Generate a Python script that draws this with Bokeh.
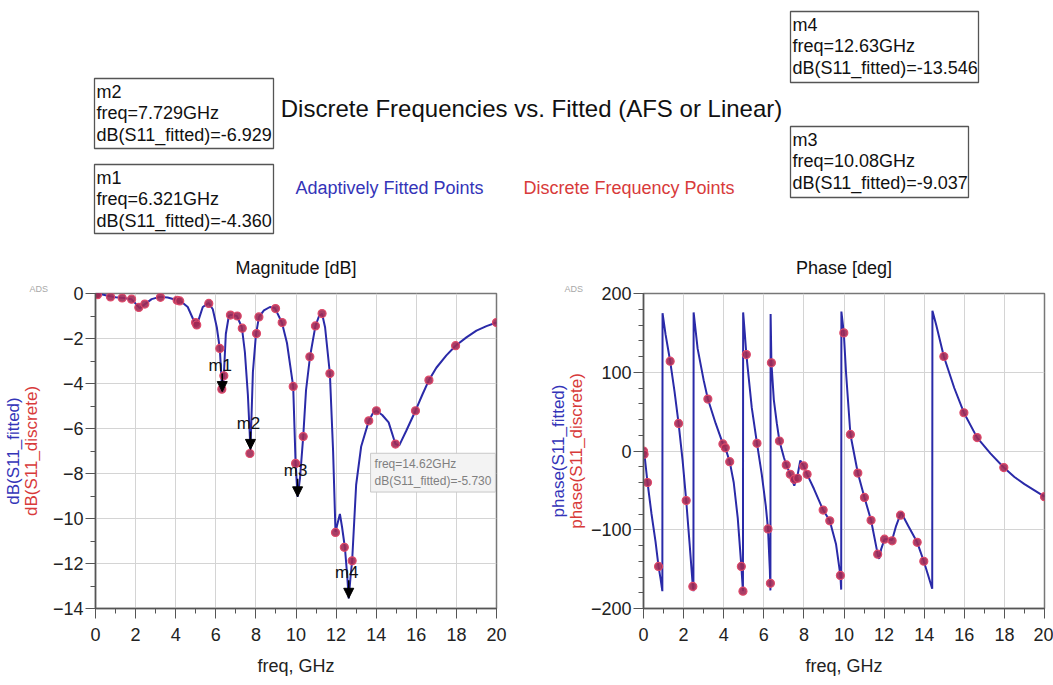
from bokeh.plotting import figure
from bokeh.models import (Range1d, SingleIntervalTicker, FixedTicker, Label, Arrow, NormalHead,
                          ColumnDataSource, LinearAxis, Title)
from bokeh.layouts import column, row
from bokeh.core.properties import value
from bokeh.embed import file_html
from bokeh.resources import INLINE

FONT = "Liberation Sans"
BLUE = "#2a2aa8"
LBLUE = "#3434b8"
RED = "#d83a3a"
PT_FILL = "#a02a55"
PT_LINE = "#e04a6a"

# ---------------- data ----------------
mag_fit_freq = [0.0, 0.3, 0.6, 1.0, 1.4, 1.8, 2.0, 2.2, 2.35, 2.5, 2.8, 3.2, 3.6, 4.0, 4.3, 4.6, 4.85,
                5.0, 5.15, 5.35, 5.65, 5.85, 6.05, 6.2, 6.321, 6.4, 6.5, 6.65, 6.75, 7.05, 7.3, 7.45,
                7.6, 7.729, 7.85, 8.0, 8.15, 8.4, 8.7, 8.95, 9.3, 9.55, 9.86, 9.98, 10.08, 10.2, 10.36,
                10.5, 10.7, 10.97, 11.15, 11.3, 11.45, 11.69, 11.85, 11.97, 12.05, 12.19, 12.3, 12.44,
                12.55, 12.63, 12.72, 12.8, 13.0, 13.25, 13.63, 13.85, 14.01, 14.3, 14.62, 14.96, 15.15,
                15.5, 15.96, 16.3, 16.63, 17.0, 17.5, 17.96, 18.5, 19.0, 19.5, 20.0]
mag_fit_db = [0.0, -0.03, -0.1, -0.17, -0.2, -0.26, -0.45, -0.65, -0.55, -0.45, -0.25, -0.15, -0.18,
              -0.28, -0.38, -0.6, -1.1, -1.4, -1.15, -0.6, -0.42, -0.7, -1.5, -2.45, -4.36, -3.66, -1.8,
              -1.0, -0.95, -1.0, -1.5, -2.6, -4.5, -6.93, -3.5, -1.85, -1.05, -0.75, -0.6, -0.65, -1.3,
              -2.2, -4.13, -7.55, -9.04, -8.2, -6.36, -4.3, -2.8, -1.44, -1.0, -0.9, -1.5, -3.56, -7.0,
              -10.6, -10.3, -9.8, -10.4, -11.3, -12.5, -13.55, -12.6, -11.88, -8.5, -6.8, -5.66, -5.3,
              -5.21, -5.4, -5.73, -6.69, -6.75, -6.1, -5.21, -4.5, -3.85, -3.3, -2.75, -2.32, -1.95,
              -1.65, -1.45, -1.29]

mag_pts_freq = [0.0, 0.05, 0.1, 0.75, 1.33, 1.8, 2.16, 2.46, 3.24, 4.07, 4.2, 4.99, 5.05, 5.65, 6.2,
                6.4, 6.3, 6.73, 7.07, 7.32, 7.7, 8.03, 8.15, 8.98, 9.31, 9.86, 9.98, 10.36, 10.69, 10.97,
                11.3, 11.69, 11.97, 12.41, 12.8, 13.63, 14.01, 14.96, 15.96, 16.63, 17.96, 20.0]
mag_pts_db = [0.0, -0.02, -0.05, -0.15, -0.2, -0.25, -0.62, -0.47, -0.17, -0.3, -0.33, -1.29, -1.4,
              -0.44, -2.44, -3.66, -4.25, -0.96, -1.0, -1.54, -7.11, -1.78, -1.04, -0.67, -1.29, -4.13,
              -7.55, -6.36, -2.81, -1.44, -0.89, -3.56, -10.62, -11.28, -11.88, -5.66, -5.21, -6.69,
              -5.21, -3.85, -2.32, -1.29]

phase_fit_freq = [0.0, 0.05, 0.2, 0.4, 0.6, 0.75, 0.85, 0.94, 0.95,
                  1.1, 1.33, 1.55, 1.75, 1.95, 2.13, 2.3, 2.46, 2.49, 2.5,
                  2.7, 3.0, 3.21, 3.6, 3.96, 4.08, 4.3, 4.5, 4.7, 4.88, 4.96, 4.97,
                  5.05, 5.13, 5.4, 5.66, 5.9, 6.1, 6.21, 6.3, 6.33, 6.34,
                  6.38, 6.5, 6.65, 6.78, 7.0, 7.12, 7.32, 7.52, 7.69, 7.82, 7.99, 8.16, 8.5, 8.96,
                  9.29, 9.6, 9.82, 9.86, 9.87,
                  9.99, 10.1, 10.32, 10.69, 11.02, 11.35, 11.68, 11.75, 11.85, 12.02, 12.2, 12.4, 12.6,
                  12.85, 13.2, 13.65, 13.98, 14.2, 14.4, 14.41,
                  14.6, 14.98, 15.5, 15.98, 16.64, 17.3, 17.97, 18.5, 19.0, 19.5, 20.0]
phase_fit_deg = [0, -5, -40, -80, -115, -146.6, -162, -178, 175,
                 148, 114, 75, 35, -12, -63, -118, -172, -178, 176,
                 130, 90, 66, 35, 9, 4, -13.5, -40, -85, -146.6, -178, 176,
                 150, 122.5, 55, 9.8, -30, -70, -99, -150, -177, 174,
                 112, 65, 35, 12.7, -8, -17.7, -29.6, -44, -30, -12, -19, -29.6, -48, -75,
                 -88.7, -118, -158, -176, 177,
                 150, 100, 21, -28, -59, -88, -131, -137, -125, -112, -112, -113, -95,
                 -78, -95, -116, -140, -158, -175, 178,
                 160, 120, 80, 48.6, 17, -3, -21, -33, -42, -50, -58]

phase_pts_freq = [0.0, 0.03, 0.2, 0.75, 1.33, 1.75, 2.13, 2.46, 3.21, 3.96, 4.08, 4.3, 4.88, 4.96,
                  5.13, 5.66, 6.21, 6.33, 6.38, 6.78, 7.12, 7.32, 7.52, 7.69, 7.99, 8.16, 8.96, 9.29,
                  9.82, 9.99, 10.32, 10.69, 11.02, 11.35, 11.68, 12.02, 12.4, 12.82, 13.65, 13.98,
                  14.98, 15.98, 16.64, 17.97, 20.0]
phase_pts_deg = [0, -4, -40, -146.6, 114, 35, -63, -172, 66, 9, 4, -13.5, -146.6, -178, 122.5, 9.8,
                 -99, -168, 112, 12.7, -17.7, -29.6, -36, -34.6, -19, -29.6, -75, -88.7, -158, 150,
                 21, -28, -59, -88, -131, -112, -114, -81.5, -116, -140, 120, 48.6, 17, -21, -58]

marker_names = ["m1", "m2", "m3", "m4"]
marker_freq = [6.321, 7.729, 10.08, 12.63]
marker_db = [-4.360, -6.929, -9.037, -13.546]

readout_freq = 14.62
readout_db = -5.730
# --------------------------------------

PAGE_W = 1053
HDR_H = 250
PLOT_H = 433
YLAB_SIZE = "17px"

# ---------- header ----------
hdr = figure(width=PAGE_W, height=HDR_H, x_range=Range1d(0, PAGE_W), y_range=Range1d(HDR_H, 0),
             toolbar_location=None, output_backend="svg", min_border=0,
             x_axis_type=None, y_axis_type=None)
hdr.grid.visible = False
hdr.outline_line_color = None

# marker readout boxes: (left, right, top, bottom) in header pixels
box_pos = {"m2": (94, 273, 78, 148), "m1": (94, 273, 164, 233),
           "m4": (790, 978, 11, 82), "m3": (790, 968, 126, 197)}
bl, br, bt, bb = [], [], [], []
tx, ty, tt = [], [], []
for name, f, d in zip(marker_names, marker_freq, marker_db):
    l, r, t, b = box_pos[name]
    bl.append(l); br.append(r); bt.append(t); bb.append(b)
    lines = [name, f"freq={f:g}GHz", f"dB(S11_fitted)={d:.3f}"]
    for i, s in enumerate(lines):
        tx.append(l + 2)
        ty.append(t + 13 + 21.5 * i)
        tt.append(s)
hdr.quad(left=bl, right=br, top=bt, bottom=bb, fill_color="white", line_color="#555555", line_width=1.3)
hdr.text(x=tx, y=ty, text=tt, text_font=value(FONT), text_font_size="18px", text_color="#111111",
         text_baseline="middle", text_align="left")

hdr.text(x=[531], y=[108], text=["Discrete Frequencies vs. Fitted (AFS or Linear)"],
         text_font=value(FONT), text_font_size="24px", text_color="#111111",
         text_baseline="middle", text_align="center")
hdr.text(x=[295], y=[187], text=["Adaptively Fitted Points"], text_font=value(FONT),
         text_font_size="18px", text_color=LBLUE, text_baseline="middle", text_align="left")
hdr.text(x=[523], y=[187], text=["Discrete Frequency Points"], text_font=value(FONT),
         text_font_size="18px", text_color=RED, text_baseline="middle", text_align="left")


def style_plot(p, title_text, ads_offset, inner_label, outer_label, inner_standoff, outer_standoff):
    # small "ADS" tag nearest the frame, main title above it
    ads = Title(text="ADS", align="left", offset=ads_offset, text_font=FONT, text_font_size="9px",
                text_color="#a8a8a8", text_font_style="normal", standoff=0)
    main = Title(text=title_text, align="center", text_font=FONT, text_font_size="18px",
                 text_font_style="normal", text_color="#111111", standoff=8)
    p.add_layout(ads, "above")
    p.add_layout(main, "above")

    p.outline_line_color = "#777777"
    p.outline_line_width = 1.5
    for ax in (p.xaxis[0], p.yaxis[0]):
        ax.axis_line_color = "#555555"
        ax.axis_line_width = 1.5
        ax.major_tick_line_color = "#555555"
        ax.minor_tick_line_color = "#555555"
        ax.major_tick_out = 10
        ax.major_tick_in = 0
        ax.minor_tick_out = 5
        ax.minor_tick_in = 0
        ax.major_label_text_font = FONT
        ax.major_label_text_font_size = "18px"
        ax.major_label_text_color = "#222222"
    p.xaxis.major_label_standoff = 9
    p.yaxis.major_label_standoff = 2
    p.xaxis.axis_label = "freq, GHz"
    p.xaxis.axis_label_text_font = FONT
    p.xaxis.axis_label_text_font_size = "18px"
    p.xaxis.axis_label_text_font_style = "normal"
    p.xaxis.axis_label_text_color = "#222222"
    p.xaxis.axis_label_standoff = 12
    p.xaxis.ticker = SingleIntervalTicker(interval=2, num_minor_ticks=2)
    p.grid.grid_line_color = "#d4d4d4"
    p.grid.grid_line_width = 1

    # inner (red) y label on the main axis
    p.yaxis.axis_label = inner_label
    p.yaxis.axis_label_text_font = FONT
    p.yaxis.axis_label_text_font_size = YLAB_SIZE
    p.yaxis.axis_label_text_font_style = "normal"
    p.yaxis.axis_label_text_color = RED
    p.yaxis.axis_label_standoff = inner_standoff
    # outer (blue) y label on a bare extra axis
    outer = LinearAxis(ticker=FixedTicker(ticks=[]), axis_label=outer_label,
                       axis_line_color=None, major_tick_line_color=None, minor_tick_line_color=None,
                       major_tick_out=0, minor_tick_out=0, major_label_standoff=0,
                       major_label_text_font_size="0px",
                       axis_label_text_font=FONT, axis_label_text_font_size=YLAB_SIZE,
                       axis_label_text_font_style="normal", axis_label_text_color=LBLUE,
                       axis_label_standoff=outer_standoff)
    p.add_layout(outer, "left")


# ---------- magnitude ----------
p1 = figure(width=545, height=PLOT_H, x_range=Range1d(0, 20), y_range=Range1d(-14, 0),
            toolbar_location=None, output_backend="svg",
            min_border_left=95, min_border_right=49, min_border_top=43, min_border_bottom=75)
style_plot(p1, "Magnitude [dB]", -66, "dB(S11_discrete)", "dB(S11_fitted)", 9, -4)
p1.yaxis[0].ticker = SingleIntervalTicker(interval=2, num_minor_ticks=2)

p1.line(mag_fit_freq, mag_fit_db, line_color=BLUE, line_width=2)
p1.scatter(mag_pts_freq, mag_pts_db, size=8, marker="circle", fill_color=PT_FILL,
           line_color=PT_LINE, line_width=1.2, fill_alpha=0.9)

arr_src = ColumnDataSource(dict(x0=marker_freq, y0=[v + 0.8 for v in marker_db],
                                x1=marker_freq, y1=marker_db))
p1.add_layout(Arrow(end=NormalHead(size=10, fill_color="black", line_color="black"),
                    source=arr_src, x_start="x0", y_start="y0", x_end="x1", y_end="y1",
                    line_color="black", line_width=1.5))
p1.text(x=marker_freq, y=marker_db, text=marker_names, x_offset=-2, y_offset=-26,
        text_font=value(FONT), text_font_size="17px", text_color="#111111",
        text_align="center", text_baseline="middle")

p1.add_layout(Label(x=13.72, y=-7.1, text=f"freq={readout_freq}GHz\ndB(S11_fitted)={readout_db:.3f}",
                    text_font=FONT, text_font_size="12px", text_color="#808080",
                    text_align="left", text_baseline="top",
                    background_fill_color="#f3f3f3", border_line_color="#c8c8c8", padding=4))

# ---------- phase ----------
p2 = figure(width=508, height=PLOT_H, x_range=Range1d(0, 20), y_range=Range1d(-200, 200),
            toolbar_location=None, output_backend="svg",
            min_border_left=98, min_border_right=9, min_border_top=43, min_border_bottom=75)
style_plot(p2, "Phase [deg]", -79, "phase(S11_discrete)", "phase(S11_fitted)", 2, -4)
p2.yaxis[0].ticker = SingleIntervalTicker(interval=100, num_minor_ticks=5)

p2.line(phase_fit_freq, phase_fit_deg, line_color=BLUE, line_width=2)
p2.scatter(phase_pts_freq, phase_pts_deg, size=8, marker="circle", fill_color=PT_FILL,
           line_color=PT_LINE, line_width=1.2, fill_alpha=0.9)

layout = column(hdr, row(p1, p2, spacing=0), spacing=0)
open("out.html", "w").write(file_html(layout, INLINE))
